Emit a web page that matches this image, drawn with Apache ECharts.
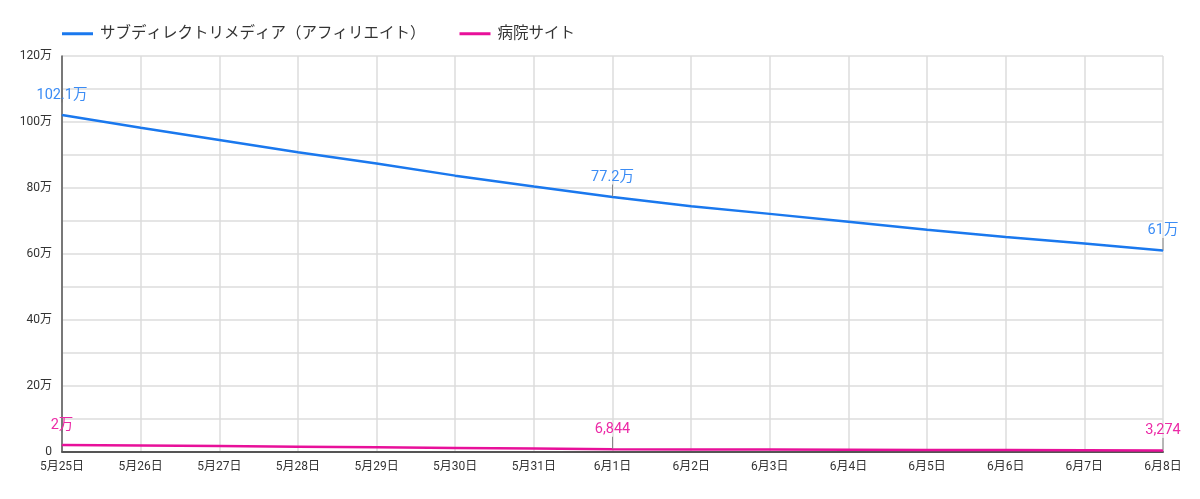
<!DOCTYPE html>
<html>
<head>
<meta charset="utf-8">
<script src="https://cdn.jsdelivr.net/npm/echarts@6/dist/echarts.min.js"></script>
<style>html,body{margin:0;padding:0;background:#fff}#c{width:1200px;height:499px}</style>
</head>
<body>
<div id="c"></div>
<script>
const categories = ['5月25日','5月26日','5月27日','5月28日','5月29日','5月30日','5月31日','6月1日','6月2日','6月3日','6月4日','6月5日','6月6日','6月7日','6月8日'];
const seriesNames = ['サブディレクトリメディア（アフィリエイト）','病院サイト'];
const mediaValues = [1021000, 982000, 945000, 908000, 874000, 837000, 804000, 772000, 744000, 721000, 697000, 673000, 651000, 631000, 610000];
const hospitalValues = [20000, 18200, 16400, 14600, 12700, 10900, 8900, 6844, 6300, 5800, 5300, 4800, 4300, 3800, 3274];
const labelIndices = [0, 7, 14];
const yTickValues = [0, 200000, 400000, 600000, 800000, 1000000, 1200000];

const FONT = 'Roboto, "Noto Sans CJK JP", sans-serif';
function fmt(v) {
  if (v >= 10000) {
    const m = Math.round(v / 1000) / 10;
    return (Number.isInteger(m) ? m.toString() : m.toFixed(1)) + '万';
  }
  return v.toLocaleString('en-US');
}
function buildData(vals, color) {
  return vals.map((v, i) => labelIndices.includes(i)
    ? { value: v, label: { show: true, color: color } }
    : { value: v });
}
const chart = echarts.init(document.getElementById('c'));
chart.setOption({
  animation: false,
  textStyle: { fontFamily: FONT },
  legend: {
    left: 57, top: 21,
    itemWidth: 31, itemHeight: 3, itemGap: 34,
    icon: 'rect',
    textStyle: { fontSize: 15.5, color: '#333', fontFamily: FONT, padding: [0, 0, 0, 2] },
    data: seriesNames
  },
  grid: { left: 62, right: 37, top: 56, bottom: 47.5, containLabel: false },
  xAxis: {
    type: 'category', data: categories, boundaryGap: false,
    axisLine: { show: true, lineStyle: { color: '#555', width: 2 } },
    axisTick: { show: false },
    axisLabel: { color: '#333', fontSize: 12, margin: 9, fontFamily: FONT, interval: 0 },
    splitLine: { show: true, lineStyle: { color: '#dcdcdc', width: 1.5 } }
  },
  yAxis: {
    type: 'value', min: 0, max: 1200000, interval: 100000,
    axisLine: { show: true, lineStyle: { color: '#555', width: 1.5 } },
    axisTick: { show: false },
    axisLabel: {
      color: '#333', fontSize: 12, margin: 10, fontFamily: FONT,
      formatter: v => yTickValues.includes(v) ? (v === 0 ? '0' : (v / 10000) + '万') : ''
    },
    splitLine: { show: true, lineStyle: { color: '#dcdcdc', width: 1.5 } }
  },
  series: [
    {
      name: seriesNames[0], type: 'line', data: buildData(mediaValues, '#3b8cf5'),
      color: '#1a78ee', symbol: 'circle', symbolSize: 1, showSymbol: true,
      lineStyle: { width: 2.5, color: '#1a78ee' },
      label: { show: false, position: 'top', distance: 4, fontSize: 14.5, fontFamily: FONT, formatter: p => fmt(p.value) },
      labelLayout: { dy: -8 },
      labelLine: { show: true, lineStyle: { color: '#888', width: 1 } }
    },
    {
      name: seriesNames[1], type: 'line', data: buildData(hospitalValues, '#ec2aa6'),
      color: '#e8109a', symbol: 'circle', symbolSize: 1, showSymbol: true,
      lineStyle: { width: 2.5, color: '#e8109a' },
      label: { show: false, position: 'top', distance: 4, fontSize: 14.5, fontFamily: FONT, formatter: p => fmt(p.value) },
      labelLayout: { dy: -8 },
      labelLine: { show: true, lineStyle: { color: '#888', width: 1 } }
    }
  ]
});
</script>
</body>
</html>
